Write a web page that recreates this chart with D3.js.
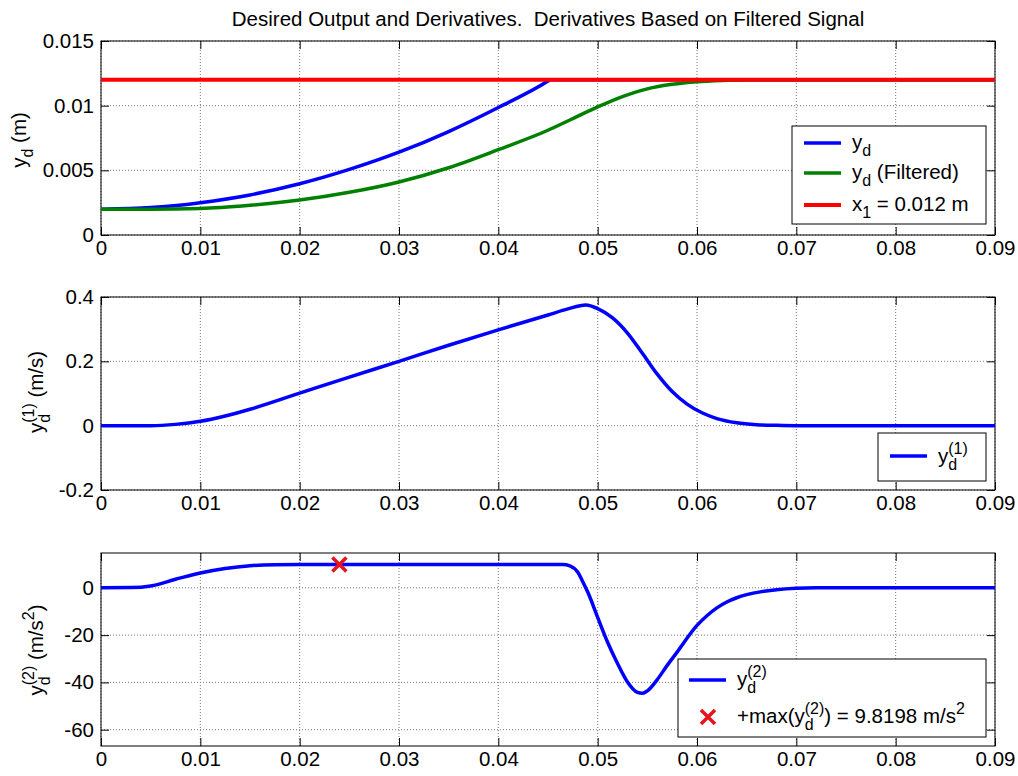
<!DOCTYPE html>
<html>
<head>
<meta charset="utf-8">
<script src="https://cdn.jsdelivr.net/npm/d3@7"></script>
<style>
  body { margin: 0; background: #fff; }
  text { font-family: "Liberation Sans", Arial, sans-serif; white-space: pre; }
</style>
</head>
<body>
<div id="chart"></div>
<script>
// values
var xTicks = [0, 0.01, 0.02, 0.03, 0.04, 0.05, 0.06, 0.07, 0.08, 0.09];

// top: desired output, filtered output, x1 level
var tDes = [0, 0.005, 0.01, 0.015, 0.02, 0.025, 0.03, 0.035, 0.04, 0.045, 0.0452, 0.09];
var yDes = [0.002, 0.00212, 0.0025, 0.0031, 0.00396, 0.00507, 0.0064, 0.008, 0.00986, 0.0119, 0.012, 0.012];
var tFilt = [0, 0.005, 0.01, 0.015, 0.02, 0.025, 0.03, 0.035, 0.04, 0.045, 0.0475, 0.05, 0.0525, 0.055, 0.0575, 0.06, 0.0625, 0.065, 0.09];
var yFilt = [0.002, 0.002, 0.00205, 0.0023, 0.0027, 0.0033, 0.0041, 0.0052, 0.0066, 0.0081, 0.009, 0.0099, 0.0107, 0.0113, 0.01165, 0.01185, 0.01195, 0.012, 0.012];
var x1Level = 0.012;
var yTicks1 = [0, 0.005, 0.01, 0.015];

// middle: first derivative
var tVel = [0, 0.005, 0.0075, 0.01, 0.0125, 0.015, 0.02, 0.025, 0.03, 0.035, 0.04, 0.045, 0.047, 0.0488, 0.05, 0.0515, 0.053, 0.0545, 0.056, 0.0575, 0.059, 0.0605, 0.062, 0.064, 0.066, 0.068, 0.07, 0.09];
var vel = [0, 0, 0.004, 0.0135, 0.03, 0.051, 0.101, 0.151, 0.2, 0.25, 0.298, 0.344, 0.363, 0.375, 0.364, 0.335, 0.288, 0.225, 0.16, 0.106, 0.067, 0.04, 0.022, 0.009, 0.003, 0.001, 0, 0];
var yTicks2 = [-0.2, 0, 0.2, 0.4];

// bottom: second derivative
var tAcc = [0, 0.003, 0.005, 0.0075, 0.01, 0.0125, 0.015, 0.0175, 0.02, 0.0465, 0.0472, 0.048, 0.0485, 0.049, 0.05, 0.051, 0.052, 0.053, 0.054, 0.0545, 0.055, 0.056, 0.057, 0.058, 0.06, 0.061, 0.062, 0.063, 0.064, 0.065, 0.0665, 0.068, 0.07, 0.072, 0.09];
var acc = [0, 0.1, 0.8, 3.6, 6.3, 8.2, 9.35, 9.75, 9.82, 9.82, 9.3, 6.6, 2.6, -1.8, -12.5, -23, -32, -39.8, -44.2, -44.6, -43.6, -38.8, -32.8, -27.2, -15.9, -11.8, -8.5, -6.0, -4.2, -2.9, -1.6, -0.8, -0.2, 0, 0];
var maxPoint = [0.024, 9.8198];
var yTicks3 = [-60, -40, -20, 0];

var width = 1018, height = 776;
var left = 101, right = 995;
var fs = 20.5;

var svg = d3.select("#chart")
  .append("svg")
    .attr("width", width)
    .attr("height", height);

var x = d3.scaleLinear()
  .domain([0, 0.09])
  .range([left, right]);

function zip(ts, vs) {
  return ts.map(function(t, i) { return [t, vs[i]]; });
}

// text with TeX-like sub/superscripts
function rich(txt, parts, size) {
  var shift = 0, lastW = 0;
  parts.forEach(function(p) {
    var off = p.sub ? 0.34 * size : p.sup ? -0.42 * size : 0;
    var ts = txt.append("tspan")
      .attr("dy", off - shift)
      .style("font-size", (p.sub || p.sup ? 0.78 * size : size) + "px")
      .text(p.t);
    if (p.stack) ts.attr("dx", -lastW);
    lastW = ts.node().getComputedTextLength();
    shift = off;
  });
}

function panel(id, top, bottom, domain, yTicks) {
  var y = d3.scaleLinear().domain(domain).range([bottom, top]);
  var g = svg.append("g");

  svg.append("clipPath").attr("id", id)
    .append("rect")
      .attr("x", left).attr("y", top)
      .attr("width", right - left).attr("height", bottom - top);

  // dotted grid
  g.selectAll(".vgrid")
    .data(xTicks)
    .enter()
    .append("line")
      .attr("x1", function(d) { return x(d); })
      .attr("x2", function(d) { return x(d); })
      .attr("y1", top)
      .attr("y2", bottom)
      .attr("stroke", "#777")
      .attr("stroke-dasharray", "1,2");
  g.selectAll(".hgrid")
    .data(yTicks)
    .enter()
    .append("line")
      .attr("x1", left)
      .attr("x2", right)
      .attr("y1", function(d) { return y(d); })
      .attr("y2", function(d) { return y(d); })
      .attr("stroke", "#777")
      .attr("stroke-dasharray", "1,2");

  // axes, ticks pointing inward on all four sides
  var ax = [
    g.append("g").attr("transform", "translate(0," + bottom + ")")
      .call(d3.axisBottom(x).tickValues(xTicks).tickSize(-8).tickPadding(5).tickFormat(function(d) { return d; })),
    g.append("g").attr("transform", "translate(0," + top + ")")
      .call(d3.axisTop(x).tickValues(xTicks).tickSize(-8).tickFormat("")),
    g.append("g").attr("transform", "translate(" + left + ",0)")
      .call(d3.axisLeft(y).tickValues(yTicks).tickSize(-8).tickPadding(7).tickFormat(function(d) { return d; })),
    g.append("g").attr("transform", "translate(" + right + ",0)")
      .call(d3.axisRight(y).tickValues(yTicks).tickSize(-8).tickFormat(""))
  ];
  ax.forEach(function(a) {
    a.select(".domain").remove();
    a.selectAll("line").attr("stroke", "#000");
    a.selectAll("text")
      .style("font-size", fs + "px")
      .attr("fill", "#000");
  });

  g.append("rect")
    .attr("x", left).attr("y", top)
    .attr("width", right - left).attr("height", bottom - top)
    .attr("fill", "none")
    .attr("stroke", "#000");

  var plot = g.append("g").attr("clip-path", "url(#" + id + ")");
  return { plot: plot, y: y, g: g };
}

function drawLine(p, data, color, w) {
  var line = d3.line()
    .x(function(d) { return x(d[0]); })
    .y(function(d) { return p.y(d[1]); })
    .curve(d3.curveMonotoneX);
  p.plot.append("path")
    .datum(data)
    .attr("d", line)
    .attr("fill", "none")
    .attr("stroke", color)
    .attr("stroke-width", w)
    .attr("stroke-linejoin", "round");
}

function legendBox(g, x0, y0, x1, y1) {
  g.append("rect")
    .attr("x", x0).attr("y", y0)
    .attr("width", x1 - x0).attr("height", y1 - y0)
    .attr("fill", "#fff")
    .attr("stroke", "#000");
}

function legendLine(g, y0, x0, color, w) {
  g.append("line")
    .attr("x1", x0).attr("x2", x0 + 37)
    .attr("y1", y0).attr("y2", y0)
    .attr("stroke", color)
    .attr("stroke-width", w);
}

function cross(g, cx, cy, r, color) {
  g.append("path")
    .attr("d", "M" + (cx - r) + "," + (cy - r) + "L" + (cx + r) + "," + (cy + r) +
               "M" + (cx - r) + "," + (cy + r) + "L" + (cx + r) + "," + (cy - r))
    .attr("stroke", color)
    .attr("stroke-width", 3.5)
    .attr("fill", "none");
}

// ---- top panel
var p1 = panel("c1", 41, 235, [0, 0.015], yTicks1);
drawLine(p1, zip(tDes, yDes), "#0000ff", 3.5);
drawLine(p1, zip(tFilt, yFilt), "#008000", 3.5);
drawLine(p1, [[0, x1Level], [0.09, x1Level]], "#ff0000", 4);

legendBox(p1.g, 792, 126, 986, 224);
legendLine(p1.g, 143, 804, "#0000ff", 3.5);
legendLine(p1.g, 173, 804, "#008000", 3.5);
legendLine(p1.g, 205, 804, "#ff0000", 4);
rich(p1.g.append("text").attr("x", 852).attr("y", 149),
  [{t: "y"}, {t: "d", sub: true}], fs);
rich(p1.g.append("text").attr("x", 852).attr("y", 179),
  [{t: "y"}, {t: "d", sub: true}, {t: " (Filtered)"}], fs);
rich(p1.g.append("text").attr("x", 852).attr("y", 211),
  [{t: "x"}, {t: "1", sub: true}, {t: " = 0.012 m"}], fs);

rich(svg.append("text")
    .attr("text-anchor", "middle")
    .attr("transform", "translate(26,140)rotate(-90)"),
  [{t: "y"}, {t: "d", sub: true}, {t: " (m)"}], fs);

// ---- middle panel
var p2 = panel("c2", 297, 490, [-0.2, 0.4], yTicks2);
drawLine(p2, zip(tVel, vel), "#0000ff", 3.5);

legendBox(p2.g, 878, 433, 986, 481);
legendLine(p2.g, 456, 890, "#0000ff", 3.5);
rich(p2.g.append("text").attr("x", 938).attr("y", 463),
  [{t: "y"}, {t: "d", sub: true}, {t: "(1)", sup: true, stack: true}], fs);

rich(svg.append("text")
    .attr("text-anchor", "middle")
    .attr("transform", "translate(43,392)rotate(-90)"),
  [{t: "y"}, {t: "d", sub: true}, {t: "(1)", sup: true, stack: true}, {t: " (m/s)"}], fs);

// ---- bottom panel
var p3 = panel("c3", 553, 746, [-66.9, 14.73], yTicks3);
drawLine(p3, zip(tAcc, acc), "#0000ff", 3.5);
cross(p3.plot, x(maxPoint[0]), p3.y(maxPoint[1]), 7, "#e8141c");

legendBox(p3.g, 678, 659, 986, 737);
legendLine(p3.g, 680, 689, "#0000ff", 3.5);
cross(p3.g, 708, 717, 7, "#e8141c");
rich(p3.g.append("text").attr("x", 737).attr("y", 686),
  [{t: "y"}, {t: "d", sub: true}, {t: "(2)", sup: true, stack: true}], fs);
rich(p3.g.append("text").attr("x", 737).attr("y", 723),
  [{t: "+max(y"}, {t: "d", sub: true}, {t: "(2)", sup: true, stack: true}, {t: ") = 9.8198 m/s"}, {t: "2", sup: true}], fs);

rich(svg.append("text")
    .attr("text-anchor", "middle")
    .attr("transform", "translate(43,650)rotate(-90)"),
  [{t: "y"}, {t: "d", sub: true}, {t: "(2)", sup: true, stack: true}, {t: " (m/s"}, {t: "2", sup: true}, {t: ")"}], fs);

// ---- title
svg.append("text")
  .attr("x", (left + right) / 2)
  .attr("y", 26)
  .attr("text-anchor", "middle")
  .style("font-size", fs + "px")
  .text("Desired Output and Derivatives.  Derivatives Based on Filtered Signal");
</script>
</body>
</html>
